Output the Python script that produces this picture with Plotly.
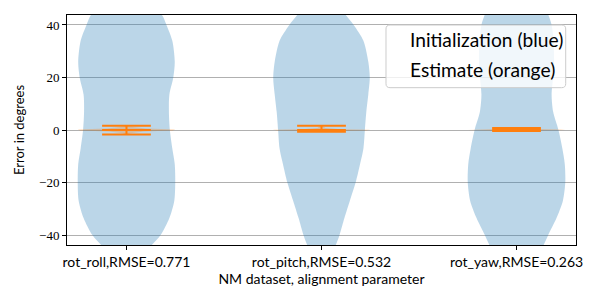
import plotly.graph_objects as go

# ---------------- data ----------------
params = ["rot_roll", "rot_pitch", "rot_yaw"]
rmse = ["0.771", "0.532", "0.263"]
positions = [1, 2, 3]

# Initialization (blue) violin density profiles (normalised to max 1)
init_levels = [50, 44, 40, 34, 26, 20, 13.5, 7, 0, -7, -13, -20, -27, -33.5, -40, -44, -50]
init_density_roll = [0.30, 0.72, 0.82, 0.94, 0.99, 0.96, 0.88, 0.87, 0.89, 0.94, 0.99, 1.00, 0.98, 0.88, 0.70, 0.51, 0.20]
init_density_pitch = [0.25, 0.49, 0.66, 0.86, 0.96, 0.99, 0.96, 0.92, 0.89, 0.86, 0.79, 0.70, 0.58, 0.47, 0.37, 0.29, 0.15]
init_density_yaw = [0.50, 0.65, 0.72, 0.76, 0.77, 0.75, 0.72, 0.75, 0.86, 0.94, 0.99, 1.00, 0.95, 0.82, 0.65, 0.55, 0.35]

# Estimate (orange) violin density profiles
est_levels_roll = [-1.75, -1.2, -0.6, -0.2, 0.2, 0.6, 1.2, 1.65]
est_density_roll = [0.02, 0.08, 0.35, 0.95, 1.0, 0.4, 0.08, 0.02]
est_levels_pitch = [-0.65, -0.4, -0.15, 0.05, 0.3, 0.8, 1.65]
est_density_pitch = [0.05, 0.3, 0.9, 1.0, 0.4, 0.08, 0.02]
est_levels_yaw = [-0.4, -0.2, 0.0, 0.15, 0.35, 0.8]
est_density_yaw = [0.1, 0.6, 1.0, 0.9, 0.4, 0.05]

# Estimate extrema / mean
est_max = [1.65, 1.65, 0.78]
est_mean = [0.0, 0.0, 0.1]
est_min = [-1.75, -0.65, -0.38]

y_ticks = [-40, -20, 0, 20, 40]
y_tick_text = ["\u221240", "\u221220", "0", "20", "40"]
legend_lines = ["Initialization (blue)", "Estimate (orange)"]

# ---------------- figure ----------------
BLUE_FILL = "rgba(31,119,180,0.3)"
ORANGE_FILL = "rgba(255,127,14,0.3)"
ORANGE = "#ff7f0e"
HALF_W = 0.25

fig = go.Figure()

def violin(pos, levels, dens, fill, shape):
    xs = [pos + HALF_W * d for d in dens] + [pos - HALF_W * d for d in reversed(dens)]
    ys = list(levels) + list(reversed(levels))
    fig.add_trace(go.Scatter(x=xs, y=ys, mode="lines", fill="toself", fillcolor=fill,
                             line=dict(width=0, shape=shape, smoothing=0.8),
                             hoverinfo="skip", showlegend=False))

init_d = [init_density_roll, init_density_pitch, init_density_yaw]
for p, d in zip(positions, init_d):
    violin(p, init_levels, d, BLUE_FILL, "spline")

est_l = [est_levels_roll, est_levels_pitch, est_levels_yaw]
est_d = [est_density_roll, est_density_pitch, est_density_yaw]
for p, l, d in zip(positions, est_l, est_d):
    violin(p, l, d, ORANGE_FILL, "linear")

lx, ly = [], []
for p, mn, me, mx in zip(positions, est_min, est_mean, est_max):
    for v in (mx, me, mn):
        lx += [p - HALF_W / 2, p + HALF_W / 2, None]
        ly += [v, v, None]
    lx += [p, p, None]
    ly += [mn, mx, None]
fig.add_trace(go.Scatter(x=lx, y=ly, mode="lines", line=dict(color=ORANGE, width=2),
                         hoverinfo="skip", showlegend=False))

tick_labels = [f"{n},RMSE={r}" for n, r in zip(params, rmse)]

fig.update_layout(
    width=600, height=300,
    margin=dict(l=67, r=24, t=15, b=55),
    paper_bgcolor="white", plot_bgcolor="white",
    showlegend=False,
    font=dict(family="Lato", size=13, color="black"),
)
fig.update_xaxes(
    range=[0.695, 3.305], tickvals=positions, ticktext=tick_labels,
    ticks="outside", ticklen=4, tickcolor="black", tickwidth=1,
    showline=True, linecolor="black", linewidth=1, mirror=True,
    showgrid=False, zeroline=False,
    tickfont=dict(family="Lato", size=14),
    title=dict(text="NM dataset, alignment parameter", font=dict(family="Lato", size=14), standoff=1),
)
fig.update_yaxes(
    range=[-43.8, 43.8], tickvals=y_ticks, ticktext=y_tick_text,
    ticks="outside", ticklen=4, tickcolor="black", tickwidth=1,
    showline=True, linecolor="black", linewidth=1, mirror=True,
    showgrid=True, gridcolor="#b0b0b0", gridwidth=1, zeroline=False,
    tickfont=dict(family="Liberation Serif", size=13),
    title=dict(text="Error in degrees", font=dict(family="Lato", size=13), standoff=11),
)

# legend box (rounded) drawn as a shape, text as annotations
x0, x1, y0, y1 = 0.6267, 0.9798, 0.684, 0.9565
rx, ry = 0.008, 0.0174
path = (f"M {x0+rx},{y0} L {x1-rx},{y0} Q {x1},{y0} {x1},{y0+ry} "
        f"L {x1},{y1-ry} Q {x1},{y1} {x1-rx},{y1} L {x0+rx},{y1} "
        f"Q {x0},{y1} {x0},{y1-ry} L {x0},{y0+ry} Q {x0},{y0} {x0+rx},{y0} Z")
fig.add_shape(type="path", path=path, xref="paper", yref="paper",
              fillcolor="rgba(255,255,255,0.8)", line=dict(color="#cccccc", width=1),
              layer="above")
for txt, yy in zip(legend_lines, [0.893, 0.762]):
    fig.add_annotation(text=txt, xref="paper", yref="paper", x=0.670, y=yy,
                       xanchor="left", yanchor="middle", showarrow=False,
                       font=dict(family="Lato", size=19.2, color="black"))

fig.write_html("out.html", config={"displayModeBar": False},
               post_script="document.body.style.margin='0';")
